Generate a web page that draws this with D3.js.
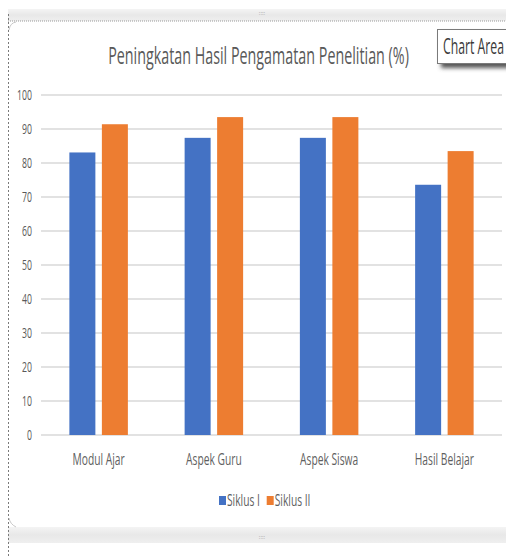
<!DOCTYPE html>
<html>
<head>
<meta charset="utf-8">
<script src="https://cdn.jsdelivr.net/npm/d3@7"></script>
<style>
  html, body { margin: 0; padding: 0; background: #fff; }
  svg { display: block; }
  text { font-family: "Open Sans", "Liberation Sans", sans-serif; }
</style>
</head>
<body>
<svg width="506" height="558"></svg>
<script>
// chart data
const categories = ["Modul Ajar", "Aspek Guru", "Aspek Siswa", "Hasil Belajar"];
const series = ["Siklus I", "Siklus II"];
const siklus1 = [83.1, 87.4, 87.4, 73.6];
const siklus2 = [91.4, 93.5, 93.5, 83.5];
const yTicks = d3.range(0, 101, 10);
const title = "Peningkatan Hasil Pengamatan Penelitian (%)";

const colors = d3.scaleOrdinal(series, ["#4472C4", "#ED7D31"]);

const svg = d3.select("svg");
const W = 506, H = 558;

// the screenshot is stretched vertically, so text gets squeezed sideways
let squeezeK = 1;
const squeeze = (sel, k) => sel.each(function() {
  const kk = k || squeezeK;
  const ax = +this.getAttribute("x") || 0;
  d3.select(this).attr("transform", `translate(${ax * (1 - kk)},0) scale(${kk},1)`);
});

// window frame (excel-like chart selection)
const defs = svg.append("defs");
const grad = defs.append("linearGradient").attr("id", "strip").attr("x1", 0).attr("y1", 0).attr("x2", 0).attr("y2", 1);
grad.append("stop").attr("offset", 0).attr("stop-color", "#f4f4f4");
grad.append("stop").attr("offset", 0.5).attr("stop-color", "#e8e8e8");
grad.append("stop").attr("offset", 1).attr("stop-color", "#efefef");
const blur = defs.append("filter").attr("id", "shadow").attr("x", -0.2).attr("y", -0.2).attr("width", 1.5).attr("height", 1.8);
blur.append("feGaussianBlur").attr("stdDeviation", 2);

svg.append("rect").attr("x", 8).attr("y", 9).attr("width", W).attr("height", 12).attr("fill", "url(#strip)");
svg.append("rect").attr("x", 8).attr("y", 527).attr("width", W).attr("height", 16).attr("fill", "url(#strip)");
svg.append("line").attr("x1", 8).attr("x2", W).attr("y1", 21).attr("y2", 21)
  .attr("stroke", "#9a9a9a").attr("stroke-dasharray", "1,1");
svg.append("line").attr("x1", 8.5).attr("x2", 8.5).attr("y1", 14).attr("y2", H)
  .attr("stroke", "#7a7a7a").attr("stroke-dasharray", "2,2");
svg.append("path")
  .attr("d", `M9,30 Q10,23 16,22 M9,518 Q10,524 16,527`)
  .attr("fill", "none").attr("stroke", "#c8c8c8");
svg.selectAll("text.handle")
  .data([15, 539])
  .join("text")
    .attr("class", "handle")
    .attr("x", 262).attr("y", d => d)
    .attr("text-anchor", "middle")
    .attr("font-size", 6).attr("fill", "#a0a0a0")
    .text("::::");

// title (sets the squeeze factor for the other texts)
const titleText = svg.append("text")
  .attr("x", 258.5).attr("y", 64)
  .attr("text-anchor", "middle")
  .attr("font-size", 23).attr("fill", "#595959")
  .text(title);
squeezeK = 301 / titleText.node().getComputedTextLength();
squeeze(titleText);

// plot area
const margin = { left: 41, right: 4, top: 95, bottom: 123 };
const x0 = d3.scaleBand(categories, [margin.left, W - margin.right]);
const x1 = d3.scaleBand(series, [0, x0.bandwidth()]).paddingInner(0.2).paddingOuter(0.873);
const y = d3.scaleLinear([0, 100], [H - margin.bottom, margin.top]);

// gridlines
svg.append("g")
  .selectAll("line")
  .data(yTicks)
  .join("line")
    .attr("x1", margin.left).attr("x2", W - margin.right)
    .attr("y1", d => y(d)).attr("y2", d => y(d))
    .attr("stroke", "#d9d9d9").attr("stroke-width", 1.5);

// y axis labels
const yAxis = svg.append("g")
  .attr("transform", `translate(${margin.left - 9},0)`)
  .call(d3.axisLeft(y).tickValues(yTicks).tickSize(0).tickPadding(0));
yAxis.select(".domain").remove();
yAxis.selectAll("text").attr("font-size", 14).attr("fill", "#595959")
  .attr("font-family", null).call(squeeze);

// bars
const rows = categories.map((c, i) => ({ cat: c, values: [siklus1[i], siklus2[i]] }));
svg.append("g")
  .selectAll("g")
  .data(rows)
  .join("g")
    .attr("transform", d => `translate(${x0(d.cat)},0)`)
  .selectAll("rect")
  .data(d => series.map((s, j) => ({ s: s, v: d.values[j] })))
  .join("rect")
    .attr("x", d => x1(d.s))
    .attr("width", x1.bandwidth())
    .attr("y", d => y(d.v))
    .attr("height", d => y(0) - y(d.v))
    .attr("fill", d => colors(d.s));

// category labels
const xAxis = svg.append("g")
  .attr("transform", `translate(0,${y(0) + 18})`)
  .call(d3.axisBottom(x0).tickSize(0).tickPadding(0));
xAxis.select(".domain").remove();
xAxis.selectAll("text").attr("font-size", 16.5).attr("fill", "#5f5f5f")
  .attr("font-family", null).call(squeeze);

// legend
const legend = svg.append("g").attr("transform", "translate(219,500)");
const item = legend.selectAll("g")
  .data(series)
  .join("g")
    .attr("transform", (d, i) => `translate(${i * 47.7},0)`);
item.append("rect")
  .attr("y", -4).attr("width", 7).attr("height", 9)
  .attr("fill", d => colors(d));
item.append("text")
  .attr("x", 8).attr("y", 5.5)
  .attr("font-size", 16.5).attr("fill", "#5f5f5f")
  .text(d => d)
  .call(squeeze);

// "Chart Area" tooltip
svg.append("rect")
  .attr("x", 441).attr("y", 33).attr("width", 80).attr("height", 35)
  .attr("fill", "#555").attr("filter", "url(#shadow)");
svg.append("rect")
  .attr("x", 437.5).attr("y", 29.5).attr("width", 80).attr("height", 34)
  .attr("fill", "#fff").attr("stroke", "#7a7a7a");
const tip = svg.append("text")
  .attr("x", 443).attr("y", 54)
  .attr("font-size", 22).attr("fill", "#3a3a3a")
  .text("Chart Area");
squeeze(tip, 61 / tip.node().getComputedTextLength());
</script>
</body>
</html>
